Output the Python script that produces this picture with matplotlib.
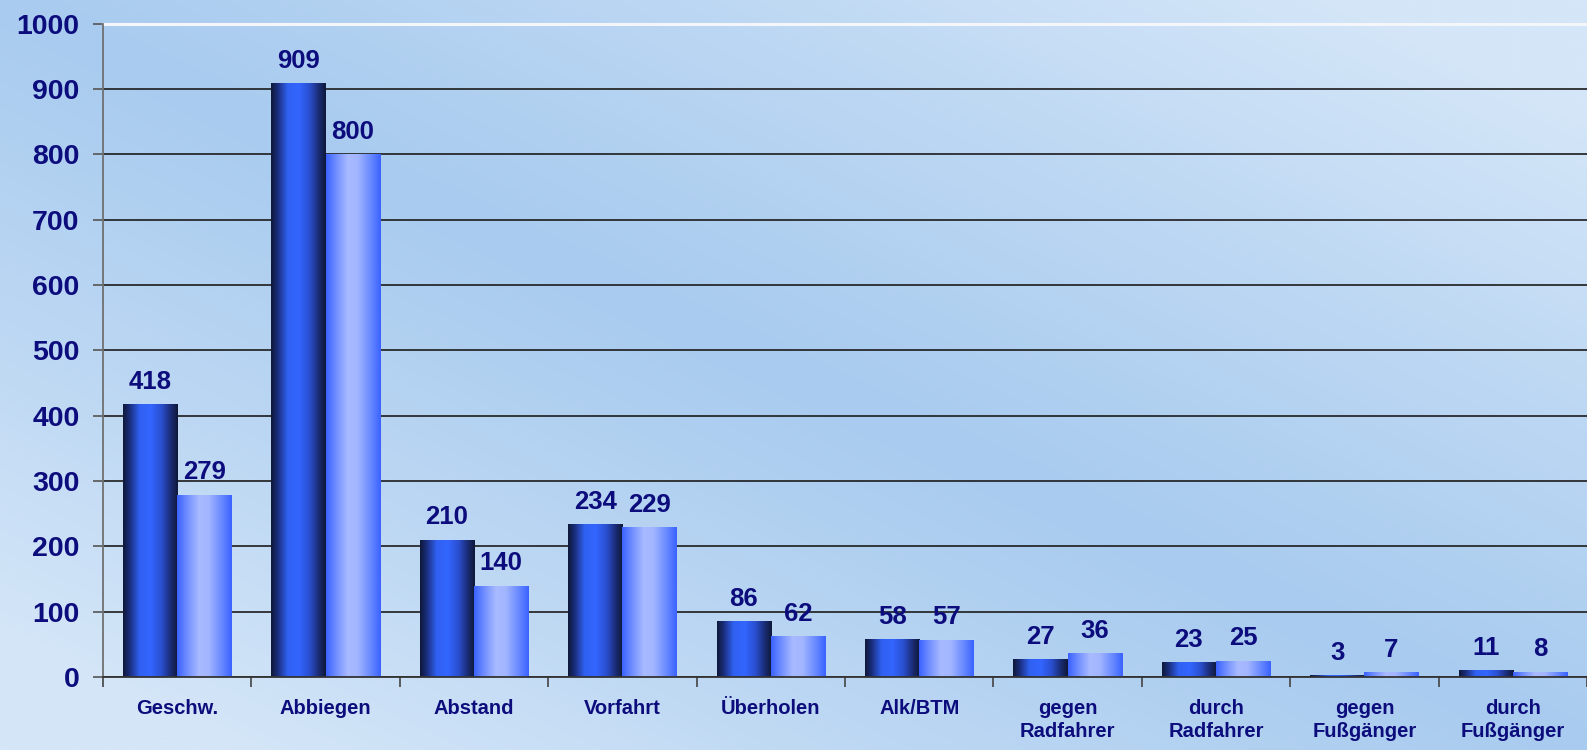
import numpy as np
import matplotlib
matplotlib.use('Agg')
import matplotlib.pyplot as plt
from matplotlib.colors import LinearSegmentedColormap

categories = ['Geschw.', 'Abbiegen', 'Abstand', 'Vorfahrt', 'Überholen', 'Alk/BTM',
              'gegen\nRadfahrer', 'durch\nRadfahrer', 'gegen\nFußgänger', 'durch\nFußgänger']
series_a = [418, 909, 210, 234, 86, 58, 27, 23, 3, 11]
series_b = [279, 800, 140, 229, 62, 57, 36, 25, 7, 8]
y_ticks = [0, 100, 200, 300, 400, 500, 600, 700, 800, 900, 1000]

plt.rcParams['font.family'] = ['Liberation Sans', 'DejaVu Sans']
navy = '#0c0c7c'

W, H = 1587, 750
fig = plt.figure(figsize=(W / 100, H / 100), dpi=100)

# background gradient (light bottom-left & top-right, darker diagonal band)
bg = fig.add_axes([0, 0, 1, 1], zorder=0)
yy, xx = np.mgrid[0:1:300j, 0:1:600j]
t = np.abs(xx + yy - 1.0)
bg_cmap = LinearSegmentedColormap.from_list('bg', ['#a8cbef', '#bcd7f3', '#d4e6f8'])
bg.imshow(t, cmap=bg_cmap, origin='lower', extent=(0, 1, 0, 1), aspect='auto',
          vmin=0, vmax=0.85, interpolation='bicubic')
bg.set_xlim(0, 1)
bg.set_ylim(0, 1)
bg.axis('off')

left = 103 / W
bottom = 1 - 677 / H
top = 1 - 23.5 / H
ax = fig.add_axes([left, bottom, 1 - left, top - bottom], zorder=1)
ax.patch.set_alpha(0)

cmap_a = LinearSegmentedColormap.from_list('a', [
    (0.0, '#0e1838'), (0.12, '#1a2d7a'), (0.3, '#3060f0'), (0.5, '#3366ff'),
    (0.7, '#2a50d0'), (0.88, '#1a2a70'), (1.0, '#0e1838')])
cmap_b = LinearSegmentedColormap.from_list('b', [
    (0.0, '#3a62ff'), (0.18, '#6f8dff'), (0.4, '#a8baff'), (0.58, '#a2b5ff'),
    (0.8, '#6c8cff'), (1.0, '#3a62ff')])

x = np.arange(len(categories))
w = 0.365
bars_a = ax.bar(x - w / 2, series_a, w, color='#3060f0', zorder=3, linewidth=0)
bars_b = ax.bar(x + w / 2, series_b, w, color='#a0b4ff', zorder=3, linewidth=0)

grad = np.linspace(0, 1, 256).reshape(1, -1)
for bars, cm in ((bars_a, cmap_a), (bars_b, cmap_b)):
    for r in bars:
        x0, y0 = r.get_x(), r.get_y()
        bw, bh = r.get_width(), r.get_height()
        im = ax.imshow(grad, cmap=cm, extent=(x0, x0 + bw, y0, y0 + bh), aspect='auto',
                       origin='lower', zorder=4, interpolation='bilinear')
        im.set_clip_path(r)

for bars, vals in ((bars_a, series_a), (bars_b, series_b)):
    for r, v in zip(bars, vals):
        ax.annotate(str(v), (r.get_x() + r.get_width() / 2, v), xytext=(0, 11),
                    textcoords='offset points', ha='center', va='baseline',
                    fontsize=18.5, fontweight='bold', color=navy, zorder=6)

ax.set_xlim(-0.5, len(categories) - 0.5)
ax.set_ylim(0, 1000)
ax.set_yticks(y_ticks)
ax.set_yticklabels([str(v) for v in y_ticks], fontsize=20.5, fontweight='bold', color=navy)
ax.set_xticks(x)
ax.set_xticklabels(categories, fontsize=14.5, fontweight='bold', color=navy,
                   linespacing=1.25, va='top')
ax.set_xticks(np.arange(-0.5, len(categories)), minor=True)
ax.tick_params(axis='x', which='major', length=0, pad=16)
ax.tick_params(axis='x', which='minor', length=7, width=1.2, color='#444444', direction='out')
ax.tick_params(axis='y', length=7, width=1.2, color='#555555', pad=10, direction='out')

ax.yaxis.grid(True, color='#1c1c1c', linewidth=1.2, zorder=1)
ax.set_axisbelow(True)
ax.axhline(1000, color='#f4f6fa', linewidth=2.2, zorder=2, clip_on=False)

for s in ('top', 'right'):
    ax.spines[s].set_visible(False)
ax.spines['left'].set_color('#707070')
ax.spines['left'].set_linewidth(1.3)
ax.spines['bottom'].set_color('#333333')
ax.spines['bottom'].set_linewidth(1.3)
ax.spines['bottom'].set_zorder(5)

fig.savefig('out.png', dpi=100)
